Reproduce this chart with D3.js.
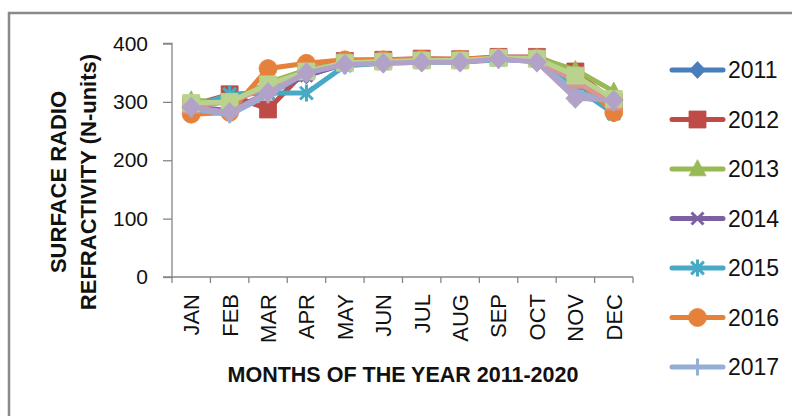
<!DOCTYPE html>
<html><head><meta charset="utf-8">
<script src="https://cdn.jsdelivr.net/npm/d3@7"></script>
<style>html,body{margin:0;padding:0;background:#fff;}svg{display:block;}</style>
</head><body>
<script>
const months = ["JAN","FEB","MAR","APR","MAY","JUN","JUL","AUG","SEP","OCT","NOV","DEC"];
const yTicks = [0,100,200,300,400];
const years = ["2011","2012","2013","2014","2015","2016","2017","2018","2019","2020"];
const v2011 = [290,312,318,345,365,368,370,370,373,372,330,295];
const v2012 = [294,313,287,355,370,372,374,373,377,377,352,300];
const v2013 = [303,300,333,355,368,370,372,372,376,376,355,318];
const v2014 = [292,285,315,345,365,368,370,370,373,370,310,298];
const v2015 = [290,313,315,315,362,366,368,368,372,372,325,280];
const v2016 = [279,282,357,366,372,372,373,373,376,375,340,282];
const v2017 = [288,278,312,350,365,367,369,369,373,369,318,298];
const v2018 = [292,300,325,352,366,368,370,370,374,372,335,298];
const v2019 = [298,300,330,352,367,369,371,371,375,374,345,305];
const v2020 = [291,282,316,350,364,366,368,368,374,368,306,303];
const seriesValues = [v2011,v2012,v2013,v2014,v2015,v2016,v2017,v2018,v2019,v2020];
const colors = ["#4A7EBB","#BE4B48","#98B954","#7D60A0","#46AAC5","#E5813B","#93AFD6","#D99694","#B9D38F","#B3A2C7"];
const markers = ["diamond","square","triangle","x","star","circle","plus","triangle","square","diamond"];
const legendShown = 7;

const W = 792, H = 416;
const svg = d3.select("body").append("svg").attr("width", W).attr("height", H);
svg.append("rect").attr("width", W).attr("height", H).attr("fill", "#fff");
svg.append("path").attr("d", `M9,${H} L9,13 L${W},13`).attr("fill","none").attr("stroke","#898989").attr("stroke-width",2.5);

const x = d3.scaleBand().domain(months).range([172, 633]);
const y = d3.scaleLinear().domain([0,400]).range([277, 43.5]);
const font = "'Liberation Sans', Arial, sans-serif";

// Y axis
const ya = svg.append("g").attr("transform","translate(172,0)")
  .call(d3.axisLeft(y).tickValues(yTicks).tickSize(9).tickPadding(15).tickFormat(d3.format("d")));
ya.select(".domain").attr("stroke","#868686").attr("stroke-width",1.3).attr("d","M-9,43.5H0V277H-9");
ya.selectAll(".tick line").attr("stroke","#868686").attr("stroke-width",1.3);
ya.selectAll(".tick text").attr("font-family",font).attr("font-size",21).attr("fill","#111");

// X axis
const xa = svg.append("g").attr("transform","translate(0,277)")
  .call(d3.axisBottom(x).tickSize(0).tickPadding(0));
xa.select(".domain").attr("stroke","#868686").attr("stroke-width",1.3).attr("d","M172,0H633");
xa.selectAll(".tick text").attr("font-family",font).attr("font-size",22).attr("fill","#111")
  .attr("transform","rotate(-90)").attr("x",-17).attr("y",0).attr("dy","0.36em").attr("text-anchor","end");
const bounds = months.map(m => x(m)).concat([x.range()[1]]);
svg.append("g").selectAll("line").data(bounds).join("line")
  .attr("x1",d=>d).attr("x2",d=>d).attr("y1",277).attr("y2",283)
  .attr("stroke","#868686").attr("stroke-width",1.3);

// Titles
svg.append("text").attr("x",403).attr("y",382).attr("text-anchor","middle")
  .attr("font-family",font).attr("font-weight","bold").attr("font-size",21.5).attr("fill","#111")
  .text("MONTHS OF THE YEAR 2011-2020");
const yt = svg.append("text").attr("transform","translate(0,182) rotate(-90)")
  .attr("text-anchor","middle").attr("font-family",font).attr("font-weight","bold").attr("font-size",22).attr("fill","#111");
yt.append("tspan").attr("x",0).attr("y",58).attr("dy","0.36em").text("SURFACE RADIO");
yt.append("tspan").attr("x",0).attr("y",88).attr("dy","0.36em").text("REFRACTIVITY (N-units)");

function markerPath(type, s) {
  const h = s/2;
  switch(type) {
    case "diamond": return `M0,${-h*1.05}L${h},0L0,${h*1.05}L${-h},0Z`;
    case "square": return `M${-h},${-h}H${h}V${h}H${-h}Z`;
    case "triangle": return `M0,${-h*1.1}L${h},${h*0.8}L${-h},${h*0.8}Z`;
    case "x": return `M${-h*0.8},${-h*0.8}L${h*0.8},${h*0.8}M${-h*0.8},${h*0.8}L${h*0.8},${-h*0.8}`;
    case "star": return `M${-h*0.75},${-h*0.75}L${h*0.75},${h*0.75}M${-h*0.75},${h*0.75}L${h*0.75},${-h*0.75}M0,${-h}V${h}`;
    case "plus": return `M0,${-h}V${h}M${-h},0H${h}`;
    case "circle": return d3.arc()({innerRadius:0,outerRadius:h,startAngle:0,endAngle:2*Math.PI});
  }
}
const strokeMarkers = new Set(["x","star","plus"]);
const markerSize = {diamond:16,square:17,triangle:17,x:15,star:17,circle:18,plus:17};

const line = d3.line().x((d,i)=>x(months[i])+x.bandwidth()/2).y(d=>y(d));
const plot = svg.append("g");
seriesValues.forEach((vals, si) => {
  const g = plot.append("g");
  g.append("path").attr("d", line(vals)).attr("fill","none").attr("stroke",colors[si])
    .attr("stroke-width",5).attr("stroke-linejoin","round").attr("stroke-linecap","round");
  const mk = markers[si];
  const sz = si === 9 ? 19 : markerSize[mk];
  g.selectAll("path.m").data(vals).join("path").attr("class","m")
    .attr("transform",(d,i)=>`translate(${x(months[i])+x.bandwidth()/2},${y(d)})`)
    .attr("d", markerPath(mk, sz))
    .attr("fill", strokeMarkers.has(mk) ? "none" : colors[si])
    .attr("stroke", colors[si]).attr("stroke-width", strokeMarkers.has(mk) ? 3 : 0.8);
});

// Legend
const lg = svg.append("g");
years.slice(0, legendShown).forEach((yr, i) => {
  const cy = 70 + i*49.5;
  const g = lg.append("g").attr("transform",`translate(0,${cy})`);
  g.append("line").attr("x1",672).attr("x2",723).attr("y1",0).attr("y2",0)
    .attr("stroke",colors[i]).attr("stroke-width",5).attr("stroke-linecap","round");
  const mk = markers[i];
  g.append("path").attr("transform","translate(697.5,0)").attr("d",markerPath(mk, markerSize[mk]))
    .attr("fill", strokeMarkers.has(mk) ? "none" : colors[i])
    .attr("stroke", colors[i]).attr("stroke-width", strokeMarkers.has(mk) ? 3 : 0.8);
  g.append("text").attr("x",728).attr("y",0).attr("dy","0.36em")
    .attr("font-family",font).attr("font-size",23).attr("fill","#111").text(yr);
});
</script>
</body></html>
